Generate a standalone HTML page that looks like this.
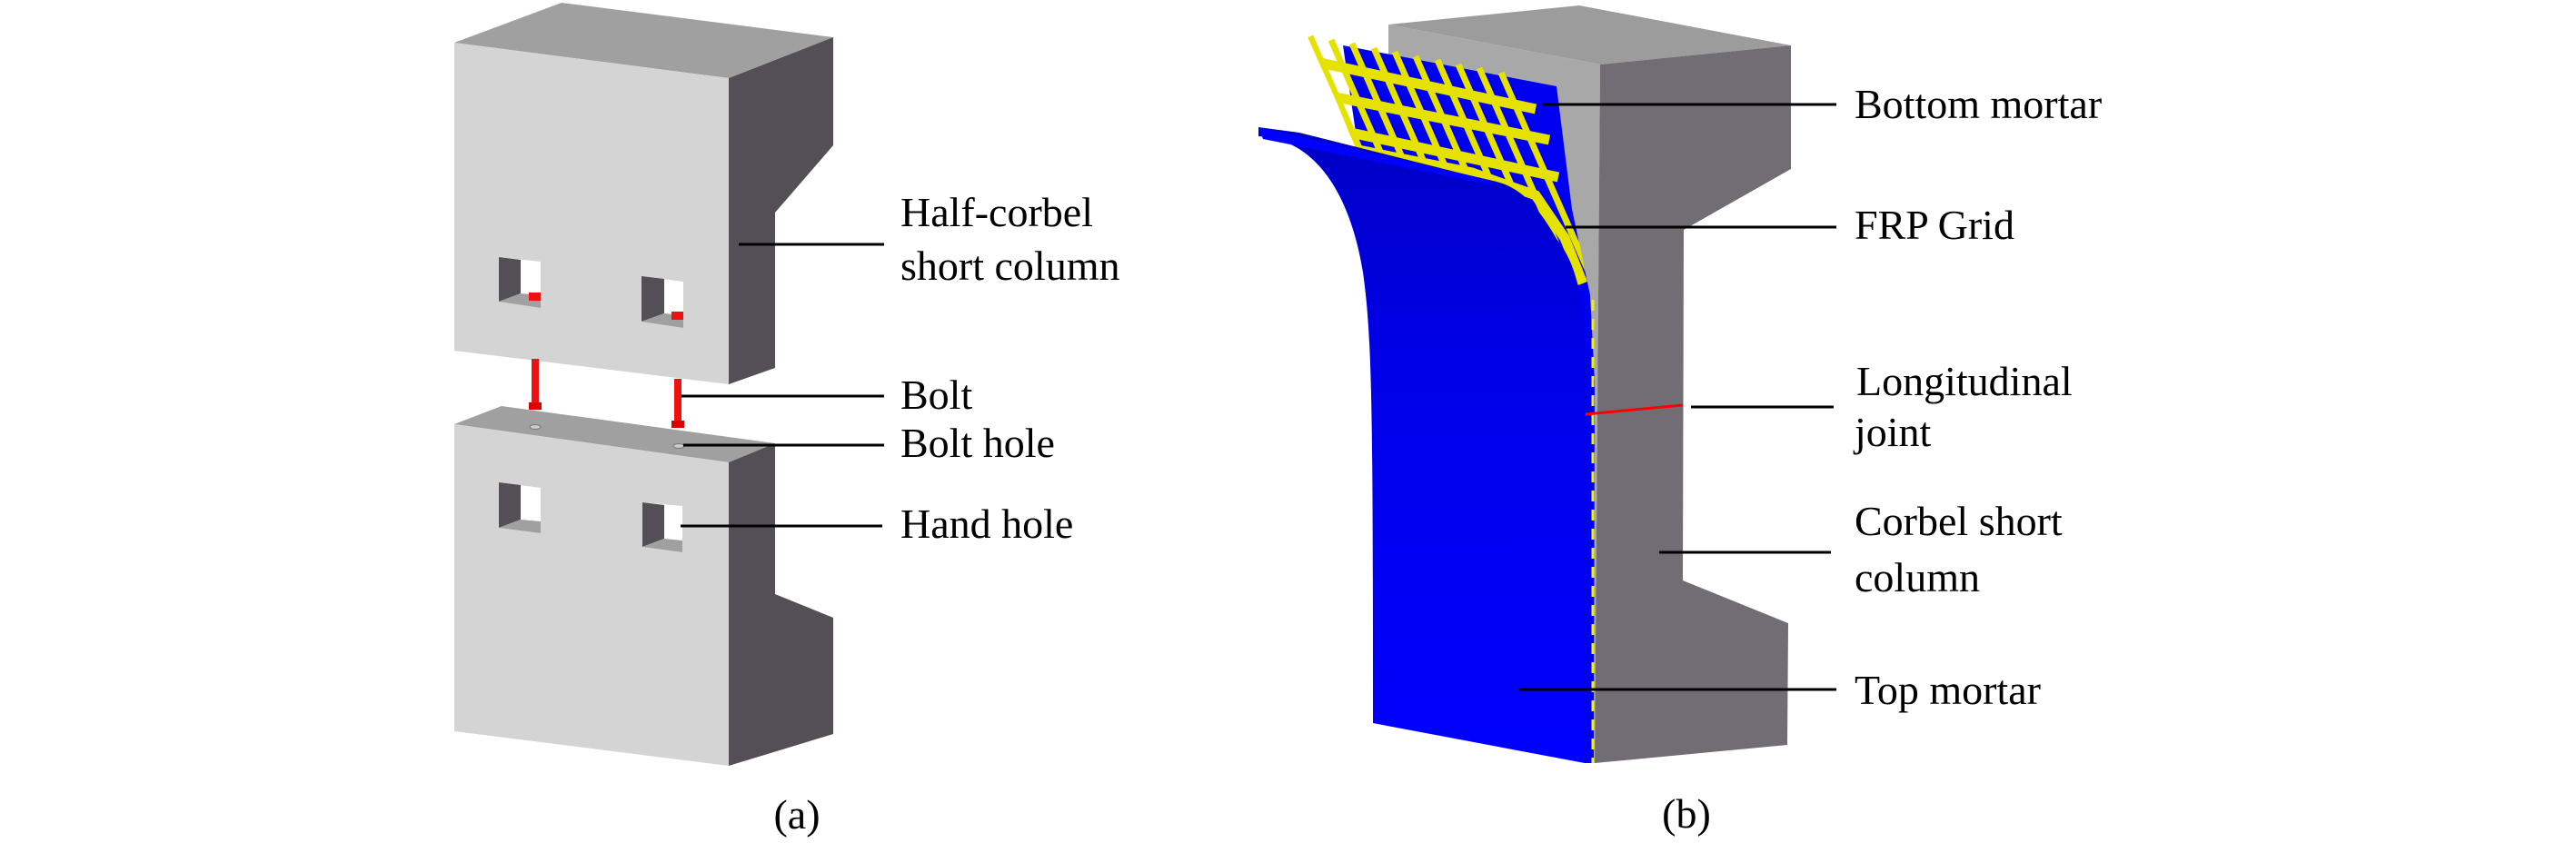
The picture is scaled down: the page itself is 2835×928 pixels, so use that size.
<!DOCTYPE html>
<html><head><meta charset="utf-8"><style>
html,body{margin:0;padding:0;background:#fff;}
body{width:2835px;height:928px;overflow:hidden;}
svg{display:block;}
</style></head><body>
<svg width="2835" height="928" viewBox="0 0 2835 928" xmlns="http://www.w3.org/2000/svg" font-family="'Liberation Serif', 'DejaVu Serif', serif" font-size="46">
<defs>
<linearGradient id="bl" x1="0" y1="0" x2="0" y2="1">
<stop offset="0" stop-color="#0000c4"/><stop offset="0.35" stop-color="#0000e6"/><stop offset="1" stop-color="#0000ff"/>
</linearGradient>
<clipPath id="gc"><polygon points="1436,34 1660,74 1690,112 1706,148 1720,190 1735,250 1747,312 1735,314 1705,252 1660,212 1560,187 1493,166 1470,110"/></clipPath>
</defs>
<!-- (a) upper block -->
<polygon points="500,47 618,3 917,41 802,86" fill="#a0a0a0"/>
<polygon points="500,47 802,86 802,423 500,386" fill="#d4d4d4"/>
<polygon points="802,86 917,41 917,160 853,234 853,405 802,423" fill="#544f56"/>
<polygon points="549,283 595,288 595,339 549,332" fill="#fff"/>
<polygon points="549,283 573,286 573,323 549,332" fill="#544f56"/>
<polygon points="549,332 573,323 595,325 595,339" fill="#a0a0a0"/>
<rect x="582" y="322" width="13" height="9" fill="#ee1111"/>
<polygon points="706,304 752,310 752,361 706,354" fill="#fff"/>
<polygon points="706,304 731,307 731,345 706,354" fill="#544f56"/>
<polygon points="706,354 731,345 752,347 752,361" fill="#a0a0a0"/>
<rect x="739" y="343" width="13" height="9" fill="#ee1111"/>
<rect x="585" y="395" width="8" height="50" fill="#ee1111"/>
<rect x="582" y="443" width="14" height="8" fill="#dd0000"/>
<rect x="742" y="417" width="8" height="48" fill="#ee1111"/>
<rect x="739" y="463" width="14" height="8" fill="#dd0000"/>
<!-- lower block -->
<polygon points="500,467 552,447 853,488 802,509" fill="#a0a0a0"/>
<polygon points="500,467 802,509 802,843 500,805" fill="#d4d4d4"/>
<polygon points="802,509 853,488 853,654 917,680 917,808 802,843" fill="#544f56"/>
<ellipse cx="589" cy="470" rx="6" ry="2.5" fill="#ccc" stroke="#777" stroke-width="1"/>
<ellipse cx="747" cy="491" rx="6" ry="2.5" fill="#ccc" stroke="#777" stroke-width="1"/>
<polygon points="549,531 595,537 595,587 549,581" fill="#fff"/>
<polygon points="549,531 573,534 573,572 549,581" fill="#544f56"/>
<polygon points="549,581 573,572 595,574 595,587" fill="#a0a0a0"/>
<polygon points="707,553 751,557 751,608 707,602" fill="#fff"/>
<polygon points="707,553 731,556 731,593 707,602" fill="#544f56"/>
<polygon points="707,602 731,593 751,595 751,608" fill="#a0a0a0"/>
<g stroke="#000" stroke-width="3">
<line x1="813" y1="269" x2="973" y2="269"/>
<line x1="750" y1="436" x2="973" y2="436"/>
<line x1="752" y1="490" x2="973" y2="490"/>
<line x1="749" y1="579" x2="971" y2="579"/>
</g>
<text x="991" y="249">Half-corbel</text>
<text x="991" y="308">short column</text>
<text x="991" y="450">Bolt</text>
<text x="991" y="503">Bolt hole</text>
<text x="991" y="592">Hand hole</text>
<text x="877" y="912" text-anchor="middle">(a)</text>

<!-- (b) column -->
<polygon points="1528,27 1738,6 1971,50 1761,71" fill="#9c9c9c"/>
<polygon points="1528,27 1761,71 1755,840 1528,790" fill="#a8a8a8"/>
<polygon points="1761,71 1971,50 1971,186 1853,253 1852,639 1968,686 1967,820 1755,840" fill="#726c74"/>
<polygon points="1478,50 1713,95 1730,230 1750,325 1755,420 1754,840 1744,840 1500,200" fill="#0000f0"/>
<!-- grid -->
<g clip-path="url(#gc)" stroke="#e6e200">
<g stroke-width="7">
<line x1="1442" y1="40" x2="1562" y2="313"/>
<line x1="1465" y1="44" x2="1585" y2="317"/>
<line x1="1488" y1="48" x2="1608" y2="321"/>
<line x1="1512" y1="53" x2="1632" y2="326"/>
<line x1="1535" y1="57" x2="1655" y2="330"/>
<line x1="1558" y1="62" x2="1678" y2="335"/>
<line x1="1582" y1="66" x2="1702" y2="339"/>
<line x1="1605" y1="71" x2="1725" y2="344"/>
<line x1="1628" y1="75" x2="1748" y2="348"/>
<line x1="1652" y1="80" x2="1772" y2="353"/>
</g>
<g stroke-width="11" fill="none">
<path d="M1420,62 L1690,120"/>
<path d="M1430,99 L1705,154"/>
<path d="M1440,136 L1715,195"/>
<path d="M1480,162 L1620,190 L1690,215 L1722,262 L1742,312"/>
</g>
</g>
<path d="M1430,146 L1617,193 L1647,200 C1670,206 1690,222 1713,263 C1735,290 1745,330 1747,420 L1744,840 L1511,796 C1511,450 1510,370 1500,300 C1482,190 1432,152 1385,150 L1385,140 Z" fill="url(#bl)"/>
<path d="M1385,140 L1617,193 L1647,200 L1640,203 L1390,153 Z" fill="#0000ff"/>
<line x1="1753" y1="330" x2="1753" y2="840" stroke="#f0f000" stroke-width="3" stroke-dasharray="12,9"/>
<line x1="1745" y1="456" x2="1852" y2="446" stroke="#ff0000" stroke-width="3"/>
<g stroke="#000" stroke-width="3">
<line x1="1698" y1="115" x2="2021" y2="115"/>
<line x1="1723" y1="250" x2="2021" y2="250"/>
<line x1="1861" y1="448" x2="2018" y2="448"/>
<line x1="1826" y1="608" x2="2015" y2="608"/>
<line x1="1671" y1="759" x2="2021" y2="759"/>
</g>
<text x="2041" y="130">Bottom mortar</text>
<text x="2041" y="263">FRP Grid</text>
<text x="2043" y="435">Longitudinal</text>
<text x="2041" y="491">joint</text>
<text x="2041" y="589">Corbel short</text>
<text x="2041" y="651">column</text>
<text x="2041" y="775">Top mortar</text>
<text x="1856" y="911" text-anchor="middle">(b)</text>
</svg>
</body></html>
